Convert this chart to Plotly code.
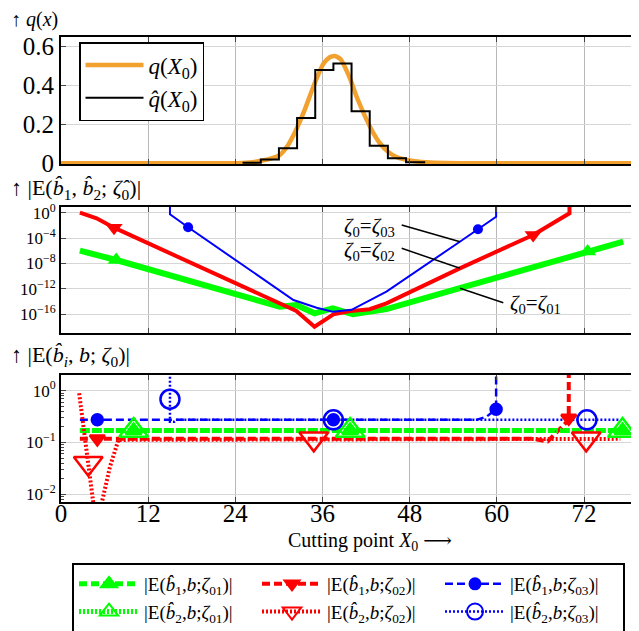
import plotly.graph_objects as go

# ---------------- data ----------------
# top panel: density q(X0) and its histogram estimate
q_x = [0, 22, 25, 27.6, 30.1, 31.2, 32.4, 33.6, 34.8, 36.1, 37.0, 37.7, 38.5, 39.3, 40.0,
       40.7, 41.4, 42.1, 43.0, 43.9, 45.0, 46.1, 47.3, 48.5, 50.8, 55, 79.6]
q_y = [0, 0.0005, 0.002, 0.013, 0.042, 0.09, 0.175, 0.28, 0.40, 0.51, 0.545, 0.552, 0.535, 0.478, 0.415,
       0.342, 0.28, 0.222, 0.155, 0.103, 0.06, 0.034, 0.02, 0.012, 0.004, 0.0007, 0]
hist_edges = [25, 27.5, 30, 32.5, 35, 37.5, 40, 42.5, 45, 47.5, 50]
hist_vals = [0.003, 0.02, 0.077, 0.233, 0.48, 0.513, 0.268, 0.09, 0.026, 0.005, 0]

# middle panel: |E(b1,b2;zeta0)|, values as log10
mid_g_x = [2.6, 7.6, 30.1, 32.4, 34.9, 35.6, 37.4, 40.2, 44.8, 54.9, 77.4]
mid_g_log = [-5.98, -7.45, -14.8, -14.53, -15.85, -15.6, -15.06, -16.0, -15.17, -11.88, -4.57]
mid_r_x = [2.6, 4.9, 7.3, 32.4, 34.9, 35.6, 37.5, 39.8, 42.5, 44.8, 54.9, 65.0, 69.8, 70.0, 70.0]
mid_r_log = [0.0, -0.88, -2.36, -15.48, -17.95, -17.4, -16.0, -15.5, -15.2, -14.27, -8.76, -3.51, -0.25, -0.1, 2.0]
mid_b_x = [15.0, 15.0, 17.5, 32.0, 35.2, 37.4, 40.0, 44.8, 54.9, 57.4, 59.9, 59.9]
mid_b_log = [2.0, -0.25, -2.3, -13.75, -14.96, -15.6, -15.3, -12.44, -4.57, -2.6, -0.63, 2.0]
mid_g_mk_x, mid_g_mk_log = [7.6, 72.5], [-7.45, -6.1]
mid_r_mk_x, mid_r_mk_log = [7.3, 65.0], [-2.36, -3.51]
mid_b_mk_x, mid_b_mk_log = [17.5, 57.4], [-2.3, -2.6]

# bottom panel: |E(b_i,b;zeta0)|, values as log10
bot_g1_x, bot_g1_log = [2.6, 77.3], [-0.77, -0.77]
bot_g2_x, bot_g2_log = [2.6, 77.3], [-0.77, -0.77]
bot_r1_x = [2.6, 65.0, 67.0, 69.9, 69.9]
bot_r1_log = [-0.93, -0.93, -0.98, -0.563, 0.5]
bot_r2_x = [2.5, 3.75, 4.45, 5.0, 5.6, 6.74, 7.9, 77.0]
bot_r2_log = [-0.05, -1.40, -2.17, -3.0, -2.17, -1.47, -0.95, -0.93]
bot_b1_x = [2.6, 57.2, 58.6, 59.9, 59.9]
bot_b1_log = [-0.563, -0.563, -0.50, -0.358, 0.5]
bot_b2_x = [15.0, 15.0, 15.6, 16.0, 77.0]
bot_b2_log = [0.5, -0.60, -0.60, -0.563, -0.563]

bot_g1_mk_x, bot_g1_mk_log = [10.0, 39.8, 77.3], [-0.77, -0.77, -0.77]
bot_g2_mk_x, bot_g2_mk_log = [10.0, 39.8, 77.3], [-0.77, -0.77, -0.77]
bot_r1_mk_x, bot_r1_mk_log = [5.0, 69.9], [-0.93, -0.53]
bot_r2_mk_x, bot_r2_mk_log = [3.75, 34.8, 72.3], [-1.40, -0.93, -0.93]
bot_b1_mk_x, bot_b1_mk_log = [5.0, 37.5, 59.9], [-0.563, -0.563, -0.358]
bot_b2_mk_x, bot_b2_mk_log = [15.0, 37.5, 72.4], [-0.165, -0.563, -0.563]

x_ticks = [0, 12, 24, 36, 48, 60, 72]

legend_names = [
    "|E(<i>b̂</i><sub>1</sub>,<i>b</i>;<i>ζ</i><sub>01</sub>)|",
    "|E(<i>b̂</i><sub>1</sub>,<i>b</i>;<i>ζ</i><sub>02</sub>)|",
    "|E(<i>b̂</i><sub>1</sub>,<i>b</i>;<i>ζ</i><sub>03</sub>)|",
    "|E(<i>b̂</i><sub>2</sub>,<i>b</i>;<i>ζ</i><sub>01</sub>)|",
    "|E(<i>b̂</i><sub>2</sub>,<i>b</i>;<i>ζ</i><sub>02</sub>)|",
    "|E(<i>b̂</i><sub>2</sub>,<i>b</i>;<i>ζ</i><sub>03</sub>)|",
]

# ---------------- style ----------------
OFF = 8                      # page body margin in the browser
W, H = 639 - OFF, 631 - OFF
L = 61 - OFF
FONT = "Liberation Serif, DejaVu Serif, serif"
GREEN, RED, BLUE, ORANGE = "#00ff00", "#ff0000", "#0000ff", "#f2a12e"


def py(p):
    """reference window pixel row -> paper y"""
    return 1 - (p - OFF) / H


def px(p):
    """reference window pixel column -> paper x"""
    return (p - OFF - L) / (W - L)


def tolin(v):
    return [10 ** e for e in v]


fig = go.Figure()

# ---- top panel ----
fig.add_trace(go.Scatter(x=q_x, y=q_y, mode="lines", line=dict(color=ORANGE, width=4.5, shape="spline", smoothing=0.6),
                         name="<i>q</i>(<i>X</i><sub>0</sub>)", legend="legend2", xaxis="x", yaxis="y"))
fig.add_trace(go.Scatter(x=hist_edges, y=hist_vals, mode="lines",
                         line=dict(color="black", width=2, shape="hv"),
                         name="<i>q̂</i>(<i>X</i><sub>0</sub>)", legend="legend2", xaxis="x", yaxis="y"))

# ---- middle panel ----
for xs, ys, col, w in [(mid_g_x, mid_g_log, GREEN, 6), (mid_r_x, mid_r_log, RED, 4), (mid_b_x, mid_b_log, BLUE, 2)]:
    fig.add_trace(go.Scatter(x=xs, y=tolin(ys), mode="lines", line=dict(color=col, width=w),
                             showlegend=False, xaxis="x2", yaxis="y2"))
for xs, ys, col, sym, sz in [(mid_g_mk_x, mid_g_mk_log, GREEN, "triangle-up", 15),
                             (mid_r_mk_x, mid_r_mk_log, RED, "triangle-down", 15),
                             (mid_b_mk_x, mid_b_mk_log, BLUE, "circle", 10)]:
    fig.add_trace(go.Scatter(x=xs, y=tolin(ys), mode="markers", marker=dict(color=col, symbol=sym, size=sz),
                             showlegend=False, xaxis="x2", yaxis="y2"))

# ---- bottom panel ----
DASH, DOT = "8px,4px", "2px,2px"
bot_lines = [
    (bot_g1_x, bot_g1_log, GREEN, 5, DASH),
    (bot_r1_x, bot_r1_log, RED, 4, DASH),
    (bot_b1_x, bot_b1_log, BLUE, 2.5, DASH),
    (bot_g2_x, bot_g2_log, GREEN, 5, DOT),
    (bot_r2_x, bot_r2_log, RED, 4, DOT),
    (bot_b2_x, bot_b2_log, BLUE, 2.5, DOT),
]
bot_marks = [
    (bot_g1_mk_x, bot_g1_mk_log, GREEN, "triangle-up", 14),
    (bot_r1_mk_x, bot_r1_mk_log, RED, "triangle-down", 13),
    (bot_b1_mk_x, bot_b1_mk_log, BLUE, "circle", 11),
    (bot_g2_mk_x, bot_g2_mk_log, GREEN, "triangle-up-open", 25),
    (bot_r2_mk_x, bot_r2_mk_log, RED, "triangle-down-open", 25),
    (bot_b2_mk_x, bot_b2_mk_log, BLUE, "circle-open", 19),
]
for xs, ys, col, w, d in bot_lines:
    fig.add_trace(go.Scatter(x=xs, y=tolin(ys), mode="lines", line=dict(color=col, width=w, dash=d),
                             showlegend=False, xaxis="x3", yaxis="y3"))
for xs, ys, col, sym, sz in bot_marks:
    fig.add_trace(go.Scatter(x=xs, y=tolin(ys), mode="markers",
                             marker=dict(color=col, symbol=sym, size=sz, line=dict(color=col, width=2.5)),
                             showlegend=False, xaxis="x3", yaxis="y3"))
# legend entries
for (xs, ys, col, w, d), (_, _, _, sym, sz), nm in zip(bot_lines, bot_marks, legend_names):
    fig.add_trace(go.Scatter(x=[None], y=[None], mode="lines+markers", name=nm,
                             line=dict(color=col, width=w, dash=d),
                             marker=dict(color=col, symbol=sym, size=min(sz, 16), line=dict(color=col, width=2)),
                             legend="legend", xaxis="x3", yaxis="y3"))
# carrier trace for the tick-label axis of the bottom panel
fig.add_trace(go.Scatter(x=[None], y=[None], showlegend=False, hoverinfo="skip", xaxis="x4", yaxis="y3"))

# ---------------- axes ----------------
XR = [0, 79.57]
xcommon = dict(range=XR, tickvals=x_ticks, ticks="inside", ticklen=5, tickcolor="#444",
               showgrid=True, gridcolor="#b8b8b8", gridwidth=1, showline=True, linecolor="black",
               linewidth=2, mirror="ticks", zeroline=False, domain=[0, 1], showticklabels=False)
ycommon = dict(ticks="inside", ticklen=5, tickcolor="#444", showgrid=True, gridcolor="#d6d6d6",
               gridwidth=1, showline=True, linecolor="black", linewidth=2, mirror="ticks", zeroline=False,
               automargin=False)

fig.update_layout(
    width=W, height=H, margin=dict(l=L, r=0, t=0, b=0, autoexpand=False),
    paper_bgcolor="white", plot_bgcolor="white",
    font=dict(family=FONT, color="black"),
    xaxis=dict(xcommon, anchor="y"),
    xaxis2=dict(xcommon, anchor="y2"),
    xaxis3=dict(xcommon, anchor="y3"),
    xaxis4=dict(range=XR, tickvals=x_ticks, overlaying="x3", anchor="free", position=py(496),
                showline=False, ticks="", showgrid=False, zeroline=False, domain=[0, 1],
                tickfont=dict(size=25, family=FONT), automargin=False),
    yaxis=dict(ycommon, domain=[py(164), py(36.7)], range=[-0.0036, 0.651], tickvals=[0, 0.2, 0.4, 0.6],
               ticktext=["0", "0.2", "0.4", "0.6"], tickfont=dict(size=25, family=FONT)),
    yaxis2=dict(ycommon, domain=[py(332.7), py(206.7)], type="log", range=[-18.9, 0.945],
                tickvals=[1, 1e-4, 1e-8, 1e-12, 1e-16],
                ticktext=["10<sup>0</sup>", "10<sup>−4</sup>", "10<sup>−8</sup>", "10<sup>−12</sup>", "10<sup>−16</sup>"],
                tickfont=dict(size=17, family=FONT)),
    yaxis3=dict(ycommon, domain=[py(502.3), py(375)], type="log", range=[-2.154, 0.302],
                tickvals=[1, 0.1, 0.01], ticktext=["10<sup>0</sup>", "10<sup>−1</sup>", "10<sup>−2</sup>"],
                tickfont=dict(size=17, family=FONT),
                minor=dict(tickvals=[0.008, 0.009] + [k / 100 for k in range(2, 10)] + [k / 10 for k in range(2, 10)],
                           ticks="inside", ticklen=3, tickcolor="#444", showgrid=False)),
    legend2=dict(x=px(79), y=py(42), xanchor="left", yanchor="top", bgcolor="white", bordercolor="black",
                 borderwidth=1.5, font=dict(size=23, family=FONT), itemwidth=58, tracegroupgap=0),
    legend=dict(x=px(72), y=py(563), xanchor="left", yanchor="top", orientation="h", bgcolor="white",
                bordercolor="black", borderwidth=2, font=dict(size=19, family=FONT), itemwidth=60,
                entrywidth=108, entrywidthmode="pixels", traceorder="normal"),
)

# ---------------- text ----------------
ann = [
    dict(text="↑ <i>q</i>(<i>x</i>)", x=px(9), y=py(20), size=20),
    dict(text="↑ |E(<i>b̂</i><sub>1</sub>, <i>b̂</i><sub>2</sub>; <i>ζ̂</i><sub>0</sub>)|", x=px(9), y=py(189), size=22),
    dict(text="↑ |E(<i>b̂</i><sub><i>i</i></sub>, <i>b</i>; <i>ζ</i><sub>0</sub>)|", x=px(9), y=py(356), size=22),
]
for a in ann:
    fig.add_annotation(xref="paper", yref="paper", xanchor="left", yanchor="middle", showarrow=False,
                       text=a["text"], x=a["x"], y=a["y"], font=dict(size=a["size"], family=FONT))

fig.add_annotation(text="Cutting point <i>X</i><sub>0</sub> ⟶", xref="paper", yref="paper", x=px(370), y=py(541),
                   showarrow=False, font=dict(size=20, family=FONT), xanchor="center", yanchor="middle")

for t, xx, yy, anc in [("<i>ζ</i><sub>0</sub>=<i>ζ</i><sub>03</sub>", px(397), py(226.7), "right"),
                       ("<i>ζ</i><sub>0</sub>=<i>ζ</i><sub>02</sub>", px(397), py(251), "right"),
                       ("<i>ζ</i><sub>0</sub>=<i>ζ</i><sub>01</sub>", px(508), py(304.3), "left")]:
    fig.add_annotation(text=t, xref="paper", yref="paper", x=xx, y=yy, xanchor=anc, yanchor="middle",
                       showarrow=False, font=dict(size=21, family=FONT))

# leader lines from labels to curves (reference pixel positions)
for x0, y0, x1, y1 in [(401.7, 225, 460, 241.7), (401.7, 248.3, 460, 268.3), (503.3, 302.7, 460, 288.3)]:
    fig.add_shape(type="line", xref="paper", yref="paper", x0=px(x0), y0=py(y0), x1=px(x1), y1=py(y1),
                  line=dict(color="black", width=1.5))

fig.write_html("out.html")
